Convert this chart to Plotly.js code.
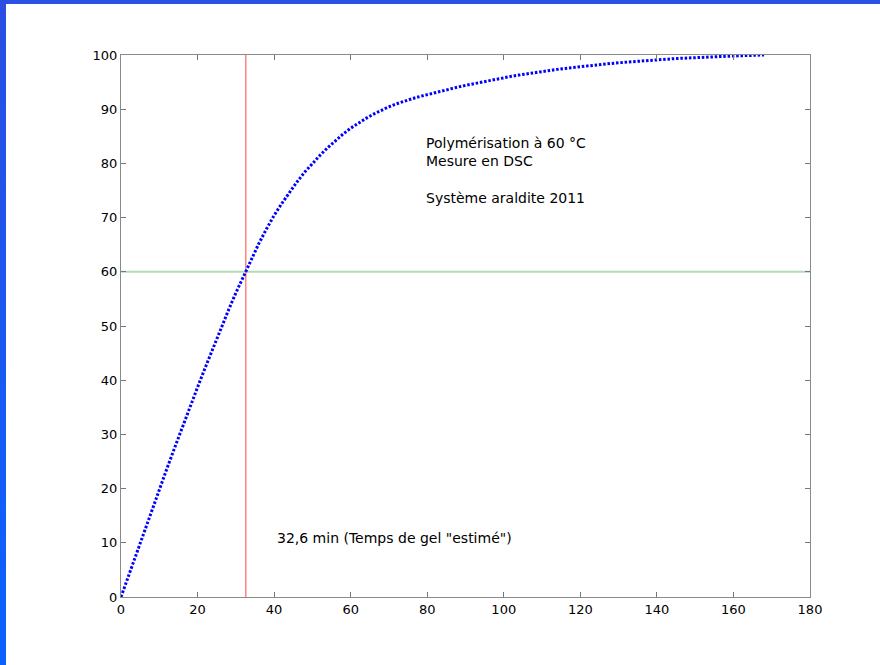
<!DOCTYPE html>
<html>
<head>
<meta charset="utf-8">
<script src="https://cdn.plot.ly/plotly-3.0.1.min.js"></script>
<style>
  html, body { margin: 0; padding: 0; background: #ffffff; }
  #wrap { position: relative; width: 880px; height: 665px; overflow: hidden; }
  #chart { position: absolute; left: 0; top: 0; width: 880px; height: 665px; }
  #barTop { position: absolute; left: 0; top: 0; width: 880px; height: 4px; background: #2b50e4; pointer-events: none; }
  #barLeft { position: absolute; left: 0; top: 0; width: 6px; height: 665px;
             background: linear-gradient(#2a4ee2, #0c62ff); pointer-events: none; }
</style>
</head>
<body>
<div id="wrap">
  <div id="chart"></div>
  <div id="barTop"></div>
  <div id="barLeft"></div>
</div>
<script>
// Time (min)
const timeMin = [0,2,4,6,8,10,12,14,16,18,20,22,24,26,28,30,32,34,36,38,40,42,44,46,48,50,
  52,54,56,58,60,62,64,66,68,70,72,74,76,78,80,82,84,86,88,90,92,94,96,98,100,
  102,104,106,108,110,112,114,116,118,120,122,124,126,128,130,132,134,136,138,140,
  142,144,146,148,150,152,154,156,158,160,162,164,166,168];
// Degree of polymerisation (%)
const conversion = [0,4.0,8.0,12.0,15.9,19.8,23.7,27.5,31.3,35.0,38.7,42.3,45.9,49.4,52.8,56.1,
  59.2,62.3,65.2,67.9,70.4,72.6,74.7,76.6,78.4,80.0,81.5,82.9,84.2,85.4,
  86.5,87.45,88.3,89.1,89.8,90.45,91.0,91.5,91.93,92.33,92.7,
  93.06,93.41,93.75,94.08,94.40,94.70,94.99,95.27,95.54,95.80,
  96.06,96.30,96.53,96.75,96.96,97.16,97.35,97.53,97.70,97.86,
  98.02,98.17,98.31,98.44,98.57,98.69,98.81,98.92,99.02,99.12,
  99.21,99.30,99.38,99.46,99.53,99.60,99.66,99.72,99.77,99.82,
  99.87,99.92,99.96,100.0];

const gelTime = 32.6;     // min
const gelLevel = 60;      // %
const xTicks = [0,20,40,60,80,100,120,140,160,180];
const yTicks = [0,10,20,30,40,50,60,70,80,90,100];

const noteLines = ["Polymérisation à 60 °C", "Mesure en DSC", "Système araldite 2011"];
const noteY = [83.8, 80.4, 73.6];
const gelLabel = "32,6 min (Temps de gel \"estimé\")";

const FONT = "DejaVu Sans, Arial, Helvetica, sans-serif";

const traces = [{
  x: timeMin, y: conversion, type: 'scatter', mode: 'lines',
  line: {color: '#0000ff', width: 3, dash: '2.5px,1.8px'},
  hoverinfo: 'skip', showlegend: false
}];

const annotations = noteLines.map((t, i) => ({
  x: 79.2, y: noteY[i], xref: 'x', yref: 'y', text: t, showarrow: false,
  xanchor: 'left', yanchor: 'middle', font: {family: FONT, size: 14, color: '#000'}
}));
annotations.push({
  x: 40.3, y: 10.9, xref: 'x', yref: 'y', text: gelLabel, showarrow: false,
  xanchor: 'left', yanchor: 'middle', font: {family: FONT, size: 14, color: '#000'}
});

const layout = {
  width: 880, height: 665,
  margin: {l: 121, r: 70, t: 55, b: 68, pad: 0},
  paper_bgcolor: 'rgba(0,0,0,0)', plot_bgcolor: '#ffffff',
  font: {family: FONT, size: 13, color: '#000'},
  showlegend: false,
  xaxis: {
    range: [0, 180], tickvals: xTicks, ticktext: xTicks.map(String),
    ticks: 'inside', ticklen: 5, tickcolor: '#777', tickwidth: 1,
    showline: true, linecolor: '#8a8a8a', linewidth: 1, mirror: 'ticks',
    showgrid: false, zeroline: false, fixedrange: true,
    tickfont: {family: FONT, size: 13, color: '#000'}
  },
  yaxis: {
    range: [0, 100], tickvals: yTicks, ticktext: yTicks.map(String),
    ticks: 'inside', ticklen: 5, tickcolor: '#777', tickwidth: 1,
    showline: true, linecolor: '#8a8a8a', linewidth: 1, mirror: 'ticks',
    showgrid: false, zeroline: false, fixedrange: true,
    tickfont: {family: FONT, size: 13, color: '#000'}
  },
  shapes: [
    {type: 'line', xref: 'x', yref: 'y', x0: 0, x1: 180, y0: gelLevel, y1: gelLevel,
     line: {color: '#b3dbb3', width: 2}, layer: 'below'},
    {type: 'line', xref: 'x', yref: 'y', x0: gelTime, x1: gelTime, y0: 0, y1: 100,
     line: {color: '#ff7070', width: 1.3}, layer: 'below'}
  ],
  annotations: annotations
};

Plotly.newPlot('chart', traces, layout, {displayModeBar: false, staticPlot: true});
</script>
</body>
</html>
